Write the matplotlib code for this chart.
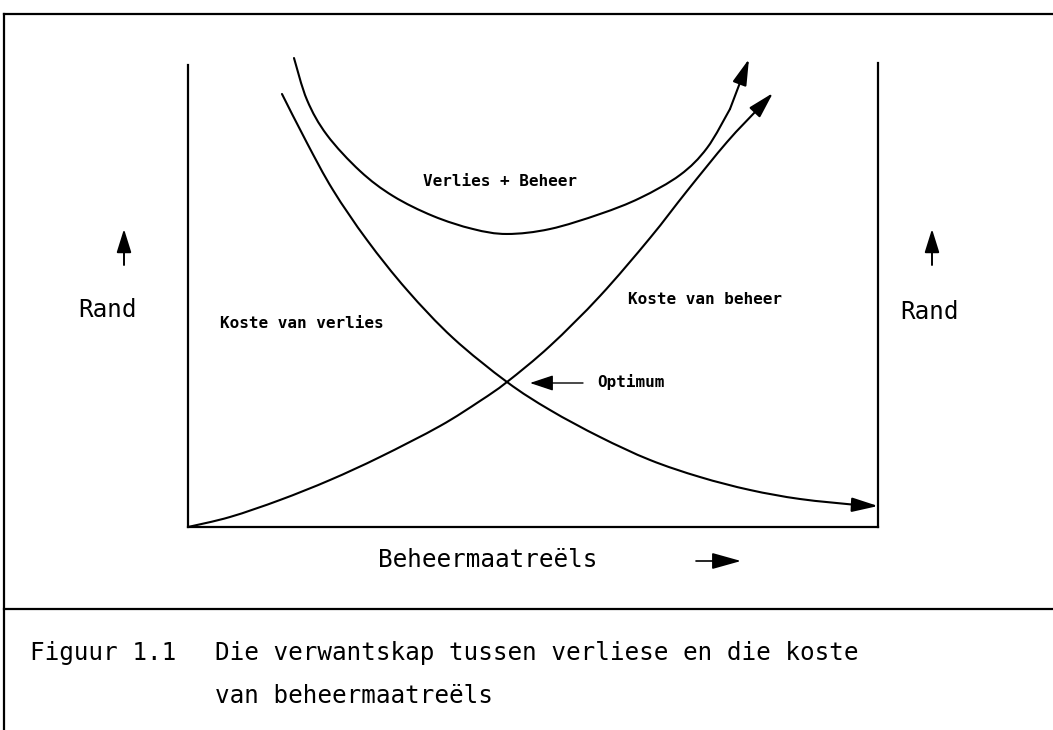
import matplotlib.pyplot as plt
from matplotlib.patches import PathPatch
from matplotlib.path import Path

# curve points; x = Beheermaatreëls, y = Rand (both 0..100)
verlies_x = [13.62, 17.25, 21.01, 25.94, 31.74, 38.41, 46.23, 52.46, 59.71, 66.96, 74.20, 81.45, 88.70, 96.96, 100.0]
verlies_y = [90.78, 80.50, 70.65, 60.17, 49.69, 39.62, 30.40, 24.53, 18.87, 14.05, 10.48, 7.76, 5.87, 4.61, 4.40]

beheer_x = [0.0, 6.09, 13.33, 20.58, 27.83, 36.52, 42.32, 46.23, 52.46, 59.71, 66.96, 72.32, 78.12, 82.46, 84.78]
beheer_y = [0.0, 2.10, 5.66, 9.85, 14.68, 21.17, 26.42, 30.40, 37.95, 48.43, 60.59, 70.44, 80.71, 87.42, 90.99]

totaal_x = [15.36, 17.25, 20.14, 24.93, 29.71, 35.51, 41.30, 46.23, 52.46, 59.71, 65.51, 71.30, 75.22, 78.55, 81.30]
totaal_y = [98.32, 89.52, 82.18, 74.63, 69.39, 65.20, 62.47, 61.43, 62.47, 65.62, 68.97, 73.79, 79.45, 87.63, 98.11]

curve_labels = ["Verlies + Beheer", "Koste van verlies", "Koste van beheer"]
optimum_label = "Optimum"
y_label = "Rand"
x_label = "Beheermaatreëls"
caption_num = "Figuur 1.1"
caption_lines = ["Die verwantskap tussen verliese en die koste", "van beheermaatreëls"]

W, H = 1053, 730
MONO = "DejaVu Sans Mono"

fig = plt.figure(figsize=(W / 100, H / 100), dpi=100)

# page canvas in pixel units (frame, labels, caption)
cv = fig.add_axes([0, 0, 1, 1])
cv.set_xlim(0, W)
cv.set_ylim(H, 0)
cv.axis("off")

lw_frame = 1.6
cv.plot([4, W], [14, 14], color="black", lw=lw_frame)
cv.plot([4, 4], [14, H], color="black", lw=lw_frame)
cv.plot([4, W], [609, 609], color="black", lw=lw_frame)


def arrow(ax, tail, tip, hl=0.8, hw=0.2, ms=20, lw=1.4):
    ax.annotate(
        "",
        xy=tip,
        xytext=tail,
        arrowprops=dict(
            arrowstyle=f"-|>,head_length={hl},head_width={hw}",
            mutation_scale=ms,
            color="black",
            lw=lw,
            shrinkA=0,
            shrinkB=0,
        ),
    )


def smooth_path(xs, ys):
    # bezier path passing through every read point (catmull-rom handles)
    pts = list(zip(xs, ys))
    ext = [pts[0]] + pts + [pts[-1]]
    verts = [pts[0]]
    codes = [Path.MOVETO]
    for i in range(1, len(ext) - 2):
        p0, p1, p2, p3 = ext[i - 1], ext[i], ext[i + 1], ext[i + 2]
        c1 = (p1[0] + (p2[0] - p0[0]) / 6, p1[1] + (p2[1] - p0[1]) / 6)
        c2 = (p2[0] - (p3[0] - p1[0]) / 6, p2[1] - (p3[1] - p1[1]) / 6)
        verts += [c1, c2, p2]
        codes += [Path.CURVE4] * 3
    return Path(verts, codes)


big = dict(family=MONO, fontsize=17.5, color="black", va="center")
small = dict(family=MONO, fontsize=11.5, fontweight="bold", color="black", va="center")

# "Rand" labels with up arrows on both sides
cv.text(107, 310, y_label, ha="center", **big)
cv.text(930, 312, y_label, ha="center", **big)
arrow(cv, (124, 265), (124, 229), hl=0.8, hw=0.25, ms=18)
arrow(cv, (932, 265), (932, 229), hl=0.8, hw=0.25, ms=18)

# x label with right arrow
cv.text(488, 560, x_label, ha="center", **big)
arrow(cv, (696, 561), (741, 561), hl=1.0, hw=0.28, ms=18, lw=1.2)

# optimum pointer
arrow(cv, (583, 383), (530, 383), hl=0.9, hw=0.3, ms=16, lw=1.0)
cv.text(597, 382, optimum_label, ha="left", **small)

# curve labels
cv.text(423, 181, curve_labels[0], ha="left", **small)
cv.text(220, 324, curve_labels[1], ha="left", **small)
cv.text(628, 300, curve_labels[2], ha="left", **small)

# caption
cv.text(30, 653, caption_num, ha="left", **big)
cv.text(215, 653, caption_lines[0], ha="left", **big)
cv.text(215, 696, caption_lines[1], ha="left", **big)

# plot area
x0, x1, yb, yt = 188, 878, 527, 50
ax = fig.add_axes([x0 / W, (H - yb) / H, (x1 - x0) / W, (yb - yt) / H])
ax.set_facecolor("none")
ax.set_xlim(0, 100)
ax.set_ylim(0, 100)
ax.set_xticks([])
ax.set_yticks([])
ax.spines["top"].set_visible(False)
for s in ["left", "right", "bottom"]:
    ax.spines[s].set_linewidth(1.6)
ax.spines["left"].set_bounds(0, (yb - 65) / (yb - yt) * 100)
ax.spines["right"].set_bounds(0, (yb - 63) / (yb - yt) * 100)

lw_curve = 1.5
for xs, ys in [(verlies_x, verlies_y), (beheer_x, beheer_y), (totaal_x, totaal_y)]:
    ax.add_patch(
        PathPatch(smooth_path(xs[:-1], ys[:-1]), fill=False, edgecolor="black",
                  lw=lw_curve, clip_on=False, capstyle="round")
    )
    arrow(ax, (xs[-2], ys[-2]), (xs[-1], ys[-1]), hl=0.8, hw=0.22, ms=20, lw=lw_curve)

fig.savefig("out.png", dpi=100)
